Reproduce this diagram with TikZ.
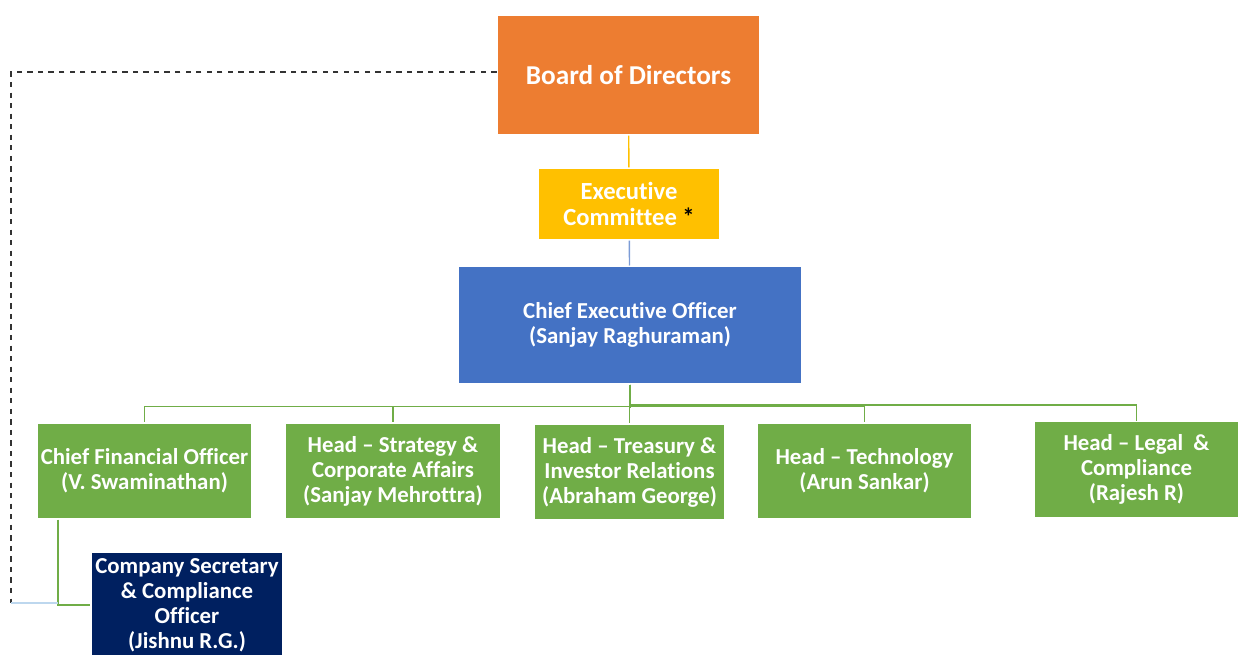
\documentclass[tikz,border=0pt]{standalone}
\usepackage{fontspec}
\setmainfont{Carlito}[RawFeature={-liga}]
\usetikzlibrary{positioning}

\definecolor{boardorange}{HTML}{ED7D31}
\definecolor{excgold}{HTML}{FFC000}
\definecolor{ceoblue}{HTML}{4472C4}
\definecolor{headgreen}{HTML}{70AD47}
\definecolor{secnavy}{HTML}{002060}
\definecolor{linkblue}{HTML}{BDD7EE}

\begin{document}
\begin{tikzpicture}[x=0.02cm,y=-0.02cm,
    box/.style={draw=white,line width=0.6pt,text=white,align=center,
        font=\bfseries\fontsize{13}{14.2}\selectfont,inner sep=0pt},
    headbox/.style={box,fill=headgreen,minimum height=1.92cm},
    bus/.style={headgreen,line width=0.8pt}]
    \useasboundingbox (0,0) rectangle (1239,654);

    \node[box,fill=boardorange,minimum width=5.26cm,minimum height=2.4cm,
        font=\bfseries\fontsize{15.5}{18}\selectfont] (board) at (628.5,75) {Board of Directors};
    \node[box,fill=excgold,minimum width=3.64cm,minimum height=1.44cm,
        font=\bfseries\fontsize{14}{14.5}\selectfont] (exc) at (629,204)
        {Executive\\Committee \textcolor{black}{*}};
    \node[box,fill=ceoblue,minimum width=6.88cm,minimum height=2.36cm] (ceo) at (630,325)
        {Chief Executive Officer\\(Sanjay Raghuraman)};

    \node[headbox,minimum width=4.3cm] (cfo) at (144.5,471) {Chief Financial Officer\\(V. Swaminathan)};
    \node[headbox,minimum width=4.3cm] (strat) at (393,471) {Head -- Strategy \&\\Corporate Affairs\\(Sanjay Mehrottra)};
    \node[headbox,minimum width=3.82cm] (treas) at (629.5,472) {Head -- Treasury \&\\Investor Relations\\(Abraham George)};
    \node[headbox,minimum width=4.3cm] (tech) at (864.5,471) {Head -- Technology\\(Arun Sankar)};
    \node[headbox,minimum width=4.1cm] (legal) at (1136.5,469.5) {Head -- Legal ~\&\\Compliance\\(Rajesh R)};

    \node[box,fill=secnavy,minimum width=3.84cm,minimum height=2.12cm] (sec) at (187,605)
        {Company Secretary\\\& Compliance\\Officer\\(Jishnu R.G.)};

    \coordinate (dashcorner) at (11,72);
    \coordinate (dashfoot) at (11,603);
    \coordinate (cfofoot) at (58,603);

    % chain down the middle
    \draw[excgold,line width=0.8pt] (board) -- (exc);
    \draw[ceoblue!70,line width=0.8pt] (exc) -- (ceo);

    % bus to the heads
    \foreach \h in {cfo,strat,treas,tech,legal}{
        \draw[bus] (ceo.south) |- ([yshift=0.32cm]\h.north) -- (\h.north);
    }

    % secretary links
    \draw[bus] (cfo.south -| cfofoot) |- (sec.west);
    \draw[black!80,dashed,line width=0.6pt] (board.west |- dashcorner) -- (dashcorner) -- (dashfoot);
    \draw[linkblue,line width=0.8pt] (dashfoot) -- (cfofoot);
\end{tikzpicture}
\end{document}
